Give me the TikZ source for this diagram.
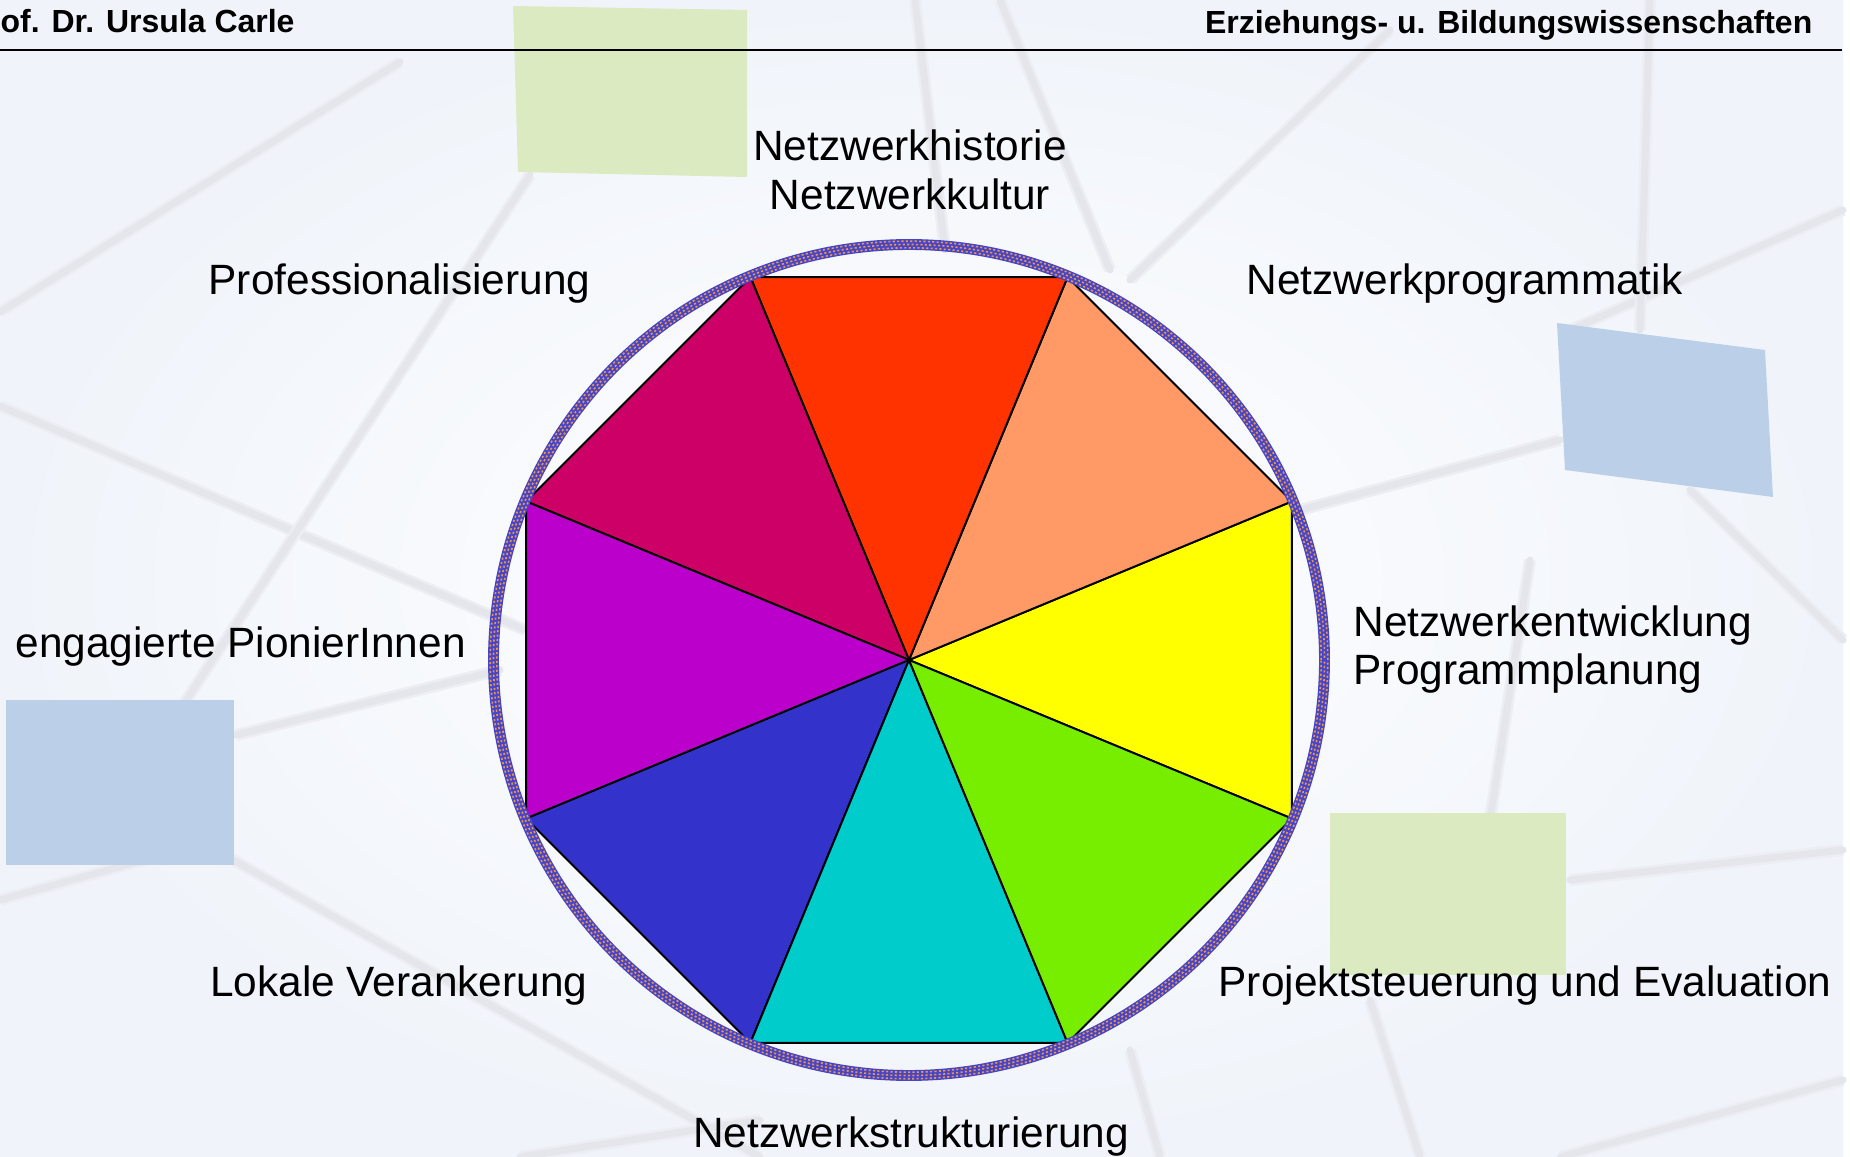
\documentclass[tikz,border=0pt]{standalone}
\usepackage{fontspec}
\setmainfont{Liberation Sans}
\definecolor{bgc}{RGB}{240,244,250}
\definecolor{netline}{RGB}{228,230,236}
\definecolor{netsoft}{RGB}{236,238,244}
\definecolor{lgreen}{RGB}{220,234,194}
\definecolor{lblue}{RGB}{188,207,232}
\definecolor{cRed}{RGB}{255,51,0}
\definecolor{cOrange}{RGB}{255,153,102}
\definecolor{cYellow}{RGB}{255,255,0}
\definecolor{cGreen}{RGB}{119,238,0}
\definecolor{cCyan}{RGB}{0,204,204}
\definecolor{cBlue}{RGB}{51,51,204}
\definecolor{cPurple}{RGB}{187,0,204}
\definecolor{cMagenta}{RGB}{204,0,102}
\definecolor{bandblue}{RGB}{70,68,200}
\definecolor{banddot}{RGB}{232,150,80}
\tikzset{
  netl/.style={netline, line width=2pt, line cap=round,
    preaction={draw=netsoft, line width=3.4pt}},
  sector/.style={draw=black, line width=0.55pt, line join=round},
  lbl/.style={inner sep=0pt, font=\fontsize{12.06}{14}\selectfont},
  hdr/.style={inner sep=0pt, font=\fontsize{9.1}{11}\selectfont\bfseries},
}
\begin{document}
\begin{tikzpicture}[x=0.1mm,y=-0.1mm]
\useasboundingbox (0,0) rectangle (1850,1157);
\fill[white] (0,0) rectangle (1850,1157);
\shade[inner color=white, outer color=bgc] (0,0) rectangle (1843,1157);
% background network lines
\draw[netl] (400,62) -- (0,312);
\draw[netl] (0,406) -- (525,630);
\draw[netl] (530,175) -- (134,780);
\draw[netl] (236,735) -- (500,670);
\draw[netl] (0,900) -- (180,850);
\draw[netl] (180,830) -- (760,1157);
\draw[netl] (520,1157) -- (760,1120);
\draw[netl] (915,0) -- (945,250);
\draw[netl] (1000,0) -- (1110,270);
\draw[netl] (1390,30) -- (1130,280);
\draw[netl] (1300,510) -- (1560,440);
\draw[netl] (1570,330) -- (1843,210);
\draw[netl] (1650,0) -- (1640,330);
\draw[netl] (1690,490) -- (1843,640);
\draw[netl] (1530,560) -- (1490,820);
\draw[netl] (1570,880) -- (1843,850);
\draw[netl] (1130,1050) -- (1160,1157);
\draw[netl] (1370,1000) -- (1420,1157);
\draw[netl] (1843,1080) -- (1560,1157);
% coloured rectangles
\fill[lgreen] (513,6) -- (747,10) -- (747,177) -- (518,172) -- cycle;
\fill[lblue] (1557,323) -- (1765,350) -- (1773,497) -- (1565,470) -- cycle;
\fill[lblue] (6,700) rectangle (234,865);
\fill[lgreen] (1330,813) rectangle (1566,975);
% header
\node[hdr, anchor=base west] (hl) at (0,33) {of. Dr. Ursula Carle};
\node[hdr, anchor=base east] (hr) at (1813,34) {Erziehungs- u. Bildungswissenschaften};
\coordinate (la) at (0,50);
\coordinate (lb) at (1842,50);
\draw[black, line width=0.6pt] (la) -- (lb);
% octagon sectors
\begin{scope}[shift={(909,660)}, x=0.1mm, y=0.1mm]
\coordinate (O) at (0,0);
\foreach \k in {0,...,7} \coordinate (v\k) at (22.5+45*\k:414.5);
\filldraw[sector, fill=cYellow] (O) -- (v7) -- (v0) -- cycle;
\filldraw[sector, fill=cOrange] (O) -- (v0) -- (v1) -- cycle;
\filldraw[sector, fill=cRed] (O) -- (v1) -- (v2) -- cycle;
\filldraw[sector, fill=cMagenta] (O) -- (v2) -- (v3) -- cycle;
\filldraw[sector, fill=cPurple] (O) -- (v3) -- (v4) -- cycle;
\filldraw[sector, fill=cBlue] (O) -- (v4) -- (v5) -- cycle;
\filldraw[sector, fill=cCyan] (O) -- (v5) -- (v6) -- cycle;
\filldraw[sector, fill=cGreen] (O) -- (v6) -- (v7) -- cycle;
% ring
\draw[bandblue, line width=3.1pt] (O) circle[radius=41.55mm];
\draw[banddot, line width=0.45pt, dash pattern=on 0.6pt off 0.65pt] (O) circle[radius=41.22mm];
\draw[banddot, line width=0.45pt, dash pattern=on 0.6pt off 0.65pt, dash phase=0.62pt] (O) circle[radius=41.55mm];
\draw[banddot, line width=0.45pt, dash pattern=on 0.6pt off 0.65pt] (O) circle[radius=41.88mm];
\end{scope}
% labels
\node[lbl, anchor=base] (t1) at (910,161) {Netzwerkhistorie};
\node[lbl, anchor=base] (t1b) at (910,210) {Netzwerkkultur};
\node[lbl, anchor=base west] (t2) at (1246,295) {Netzwerkprogrammatik};
\node[lbl, anchor=base west] (t3) at (1353,637) {Netzwerkentwicklung};
\node[lbl, anchor=base west] (t3b) at (1353,685) {Programmplanung};
\node[lbl, anchor=base west] (t4) at (1218,997) {Projektsteuerung und Evaluation};
\node[lbl, anchor=base] (t5) at (911,1148) {Netzwerkstrukturierung};
\node[lbl, anchor=base east] (t6) at (588,997) {Lokale Verankerung};
\node[lbl, anchor=base west] (t7) at (15,658) {engagierte PionierInnen};
\node[lbl, anchor=base west] (t8) at (208,295) {Professionalisierung};
\end{tikzpicture}
\end{document}
